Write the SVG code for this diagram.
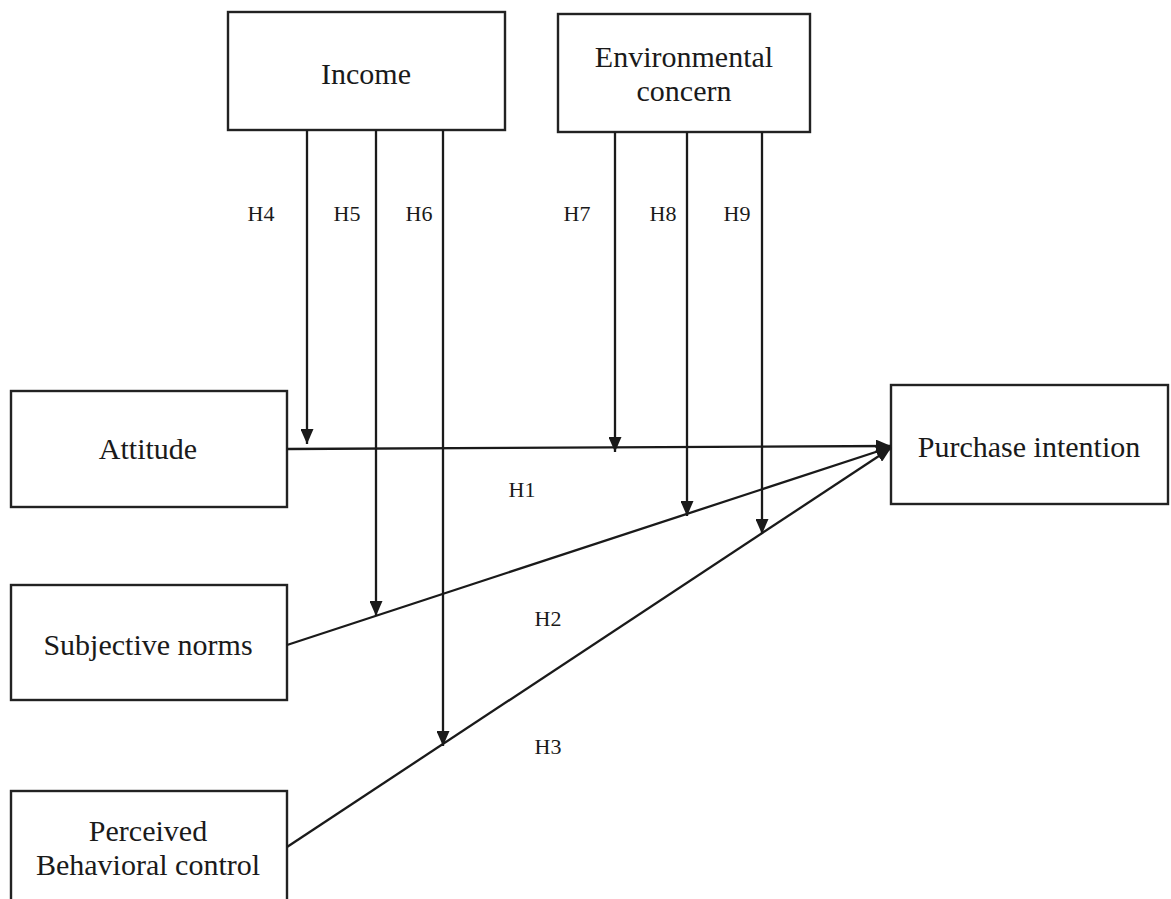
<svg xmlns="http://www.w3.org/2000/svg" width="1171" height="899" viewBox="0 0 1171 899">
  <style>
    .box { fill: #ffffff; stroke: #222222; stroke-width: 2.4; }
    .lbl { font-family: "Liberation Serif", "Times New Roman", serif; font-size: 30px; fill: #1a1a1a; text-anchor: middle; }
    .hyp { font-family: "Liberation Serif", "Times New Roman", serif; font-size: 22px; fill: #1a1a1a; text-anchor: middle; }
    .link { fill: none; stroke: #1a1a1a; stroke-width: 2.3; marker-end: url(#arrow); }
  </style>
  <defs>
    <marker id="arrow" viewBox="0 0 15 13" refX="15" refY="6.5" markerWidth="15" markerHeight="13" markerUnits="userSpaceOnUse" orient="auto">
      <path d="M0,0 L15,6.5 L0,13 z" fill="#1a1a1a"/>
    </marker>
  </defs>
  <rect width="1171" height="899" fill="#ffffff"/>

  <g id="income">
    <rect class="box" x="228" y="12" width="277" height="118"/>
    <text class="lbl" x="366" y="84">Income</text>
  </g>
  <g id="environmental-concern">
    <rect class="box" x="558" y="14" width="252" height="118"/>
    <text class="lbl" x="684" y="67">Environmental</text>
    <text class="lbl" x="684" y="101">concern</text>
  </g>
  <g id="attitude">
    <rect class="box" x="11" y="391" width="276" height="116"/>
    <text class="lbl" x="148" y="459">Attitude</text>
  </g>
  <g id="subjective-norms">
    <rect class="box" x="11" y="585" width="276" height="115"/>
    <text class="lbl" x="148" y="655">Subjective norms</text>
  </g>
  <g id="perceived-behavioral-control">
    <rect class="box" x="11" y="791" width="276" height="120"/>
    <text class="lbl" x="148" y="841">Perceived</text>
    <text class="lbl" x="148" y="875">Behavioral control</text>
  </g>
  <g id="purchase-intention">
    <rect class="box" x="891" y="385" width="277" height="119"/>
    <text class="lbl" x="1029" y="457">Purchase intention</text>
  </g>

  <g id="connectors">
    <!-- direct paths -->
    <line class="link" x1="287" y1="449" x2="891" y2="446"/>
    <line class="link" x1="287" y1="645" x2="891" y2="447"/>
    <line class="link" x1="287" y1="847" x2="891" y2="448"/>
    <!-- moderation by income -->
    <line class="link" x1="307" y1="130" x2="307" y2="444"/>
    <line class="link" x1="376" y1="130" x2="376" y2="616"/>
    <line class="link" x1="443" y1="130" x2="443" y2="746"/>
    <!-- moderation by environmental concern -->
    <line class="link" x1="615" y1="132" x2="615" y2="452"/>
    <line class="link" x1="687" y1="132" x2="687" y2="516"/>
    <line class="link" x1="762" y1="132" x2="762" y2="534"/>
  </g>

  <g id="hypothesis-labels">
    <text class="hyp" x="261" y="221">H4</text>
    <text class="hyp" x="347" y="221">H5</text>
    <text class="hyp" x="419" y="221">H6</text>
    <text class="hyp" x="577" y="221">H7</text>
    <text class="hyp" x="663" y="221">H8</text>
    <text class="hyp" x="737" y="221">H9</text>
    <text class="hyp" x="522" y="497">H1</text>
    <text class="hyp" x="548" y="626">H2</text>
    <text class="hyp" x="548" y="754">H3</text>
  </g>
</svg>
